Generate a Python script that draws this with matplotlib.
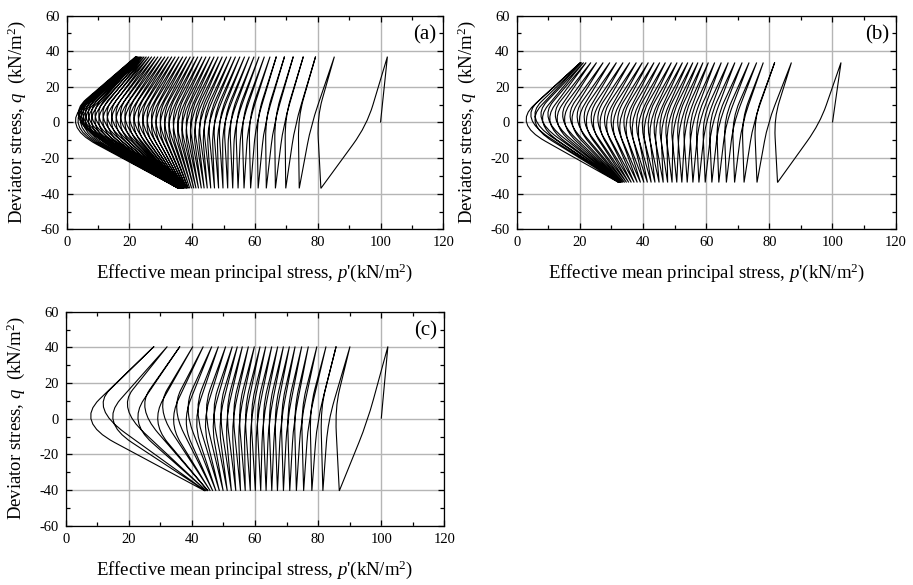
"""Undrained cyclic stress paths (q vs p') for three test cases (a), (b), (c)."""

import matplotlib

matplotlib.use("Agg")
import matplotlib.pyplot as plt
from matplotlib.path import Path
from matplotlib.patches import PathPatch
from matplotlib.ticker import MultipleLocator

plt.rcParams["font.family"] = ["Liberation Serif", "DejaVu Serif"]
plt.rcParams["mathtext.fontset"] = "custom"
plt.rcParams["mathtext.rm"] = "Liberation Serif"
plt.rcParams["mathtext.it"] = "Liberation Serif:italic"
plt.rcParams["axes.unicode_minus"] = False

# common start of every test: isotropic state p' = 100, q = 0
P_START = 100.0

# ---- panel (a) ----
AMP_A = 37.0
KNEE_Q_A = (-1.5, 2.5)  # q of leftmost point on unloading / reloading branch
TOP_A = [102.2, 85.3, 79.3, 75.4, 72.2, 69.4, 66.8, 64.8, 63.0, 61.3,
         59.7, 58.2, 56.7, 55.2, 53.8, 52.4, 51.0, 49.6, 48.3, 47.0,
         45.7, 44.4, 43.1, 41.8, 40.6, 39.4, 38.2, 37.0, 35.8, 34.6,
         33.5, 32.4, 31.3, 30.2, 29.1, 28.1, 27.1, 26.2, 25.4, 24.7,
         24.1, 23.6, 23.2, 22.8, 22.5, 22.3, 22.1, 22.0]
BOT_A = [81.0, 74.1, 69.8, 66.5, 63.6, 61.0, 58.6, 56.5, 54.6, 52.9,
         51.3, 49.8, 48.4, 47.1, 45.9, 44.8, 43.8, 42.9, 42.0, 41.2,
         40.5, 39.8, 39.2, 38.7, 38.2, 37.8, 37.4, 37.1, 36.8, 36.6,
         36.4, 36.2, 36.1, 36.0, 35.9, 35.9, 35.8, 35.8, 35.8, 35.7,
         35.7, 35.7, 35.7, 35.6, 35.6, 35.6, 35.6, 35.6]
DOWN_KNEE_A = [95.0, 78.1, 73.0, 69.3, 66.2, 63.3, 60.6, 58.2, 56.0, 54.0,
               52.1, 50.3, 48.6, 47.0, 45.4, 43.9, 42.4, 41.0, 39.6, 38.2,
               36.8, 35.4, 34.0, 32.6, 31.2, 29.8, 28.4, 27.0, 25.6, 24.2,
               22.8, 21.4, 20.0, 18.6, 17.2, 15.8, 14.4, 13.0, 11.7, 10.4,
               9.2, 8.1, 7.1, 6.2, 5.4, 4.6, 3.8, 3.0]
UP_KNEE_A = [80.3, 74.2, 70.0, 66.7, 63.8, 61.1, 58.6, 56.4, 54.4, 52.5,
             50.7, 49.0, 47.3, 45.7, 44.1, 42.6, 41.1, 39.6, 38.2, 36.8,
             35.4, 34.0, 32.6, 31.2, 29.8, 28.4, 27.0, 25.6, 24.2, 22.8,
             21.4, 20.0, 18.6, 17.2, 15.8, 14.4, 13.0, 11.7, 10.4, 9.2,
             8.1, 7.1, 6.2, 5.4, 4.8, 4.3, 3.9]

# ---- panel (b) ----
AMP_B = 33.7
KNEE_Q_B = (-0.5, 2.0)
TOP_B = [102.7, 87.0, 81.7, 78.1, 76.0, 73.6, 71.4, 69.1, 67.0, 64.8,
         62.7, 60.7, 59.0, 57.4, 55.8, 54.2, 52.5, 50.8, 49.0, 47.1,
         45.3, 43.5, 41.7, 39.8, 37.9, 35.8, 33.7, 31.6, 29.5, 27.4,
         25.3, 23.5, 22.0, 21.2, 20.6, 20.2]
BOT_B = [82.6, 76.1, 72.0, 69.0, 66.4, 64.0, 61.8, 59.7, 57.7, 55.8,
         54.0, 52.3, 50.7, 49.2, 47.8, 46.4, 45.1, 43.8, 42.6, 41.4,
         40.3, 39.2, 38.2, 37.2, 36.3, 35.5, 34.8, 34.2, 33.7, 33.3,
         33.0, 32.8, 32.6, 32.5, 32.4, 32.3]
DOWN_KNEE_B = [95.5, 79.8, 75.2, 71.7, 69.0, 66.6, 64.3, 62.2, 60.1, 58.0,
               55.9, 53.9, 52.0, 50.1, 48.2, 46.3, 44.4, 42.5, 40.6, 38.7,
               36.7, 34.7, 32.7, 30.6, 28.5, 26.4, 24.3, 22.1, 19.9, 17.6,
               15.3, 13.0, 10.7, 8.4, 6.0, 3.2]
UP_KNEE_B = [82.0, 75.8, 71.9, 68.9, 66.3, 63.9, 61.6, 59.5, 57.4, 55.3,
             53.3, 51.3, 49.4, 47.5, 45.6, 43.7, 41.8, 39.9, 38.0, 36.0,
             34.0, 32.0, 29.9, 27.8, 25.7, 23.6, 21.4, 19.2, 17.0, 14.7,
             12.4, 10.1, 7.9, 6.0, 4.7]

# ---- panel (c) ----
AMP_C = 40.5
KNEE_Q_C = (-1.5, 5.0)
TOP_C = [102.1, 90.1, 85.7, 82.5, 79.6, 76.9, 74.8, 72.7, 70.9, 69.0,
         67.2, 65.3, 63.4, 61.6, 59.8, 57.9, 56.0, 54.4, 52.8, 50.7,
         48.4, 46.3, 43.6, 40.3, 36.2, 32.2, 28.0]
BOT_C = [86.7, 81.5, 78.0, 75.4, 73.1, 71.0, 69.0, 67.1, 65.3, 63.5,
         61.8, 60.1, 58.5, 56.9, 55.4, 53.9, 52.5, 51.2, 49.9, 48.7,
         47.6, 46.6, 45.8, 45.1, 44.6, 44.3, 44.1]
DOWN_KNEE_C = [95.4, 83.5, 80.0, 77.2, 74.8, 72.5, 70.4, 68.4, 66.5, 64.6,
               62.7, 60.8, 58.9, 57.0, 55.1, 53.1, 51.1, 49.0, 46.8, 44.3,
               41.5, 38.2, 34.2, 29.2, 23.0, 15.1, 8.2]
UP_KNEE_C = [85.8, 81.2, 77.8, 75.1, 72.8, 70.6, 68.6, 66.6, 64.7, 62.8,
             60.9, 59.0, 57.1, 55.2, 53.3, 51.3, 49.2, 47.0, 44.6, 41.9,
             38.8, 35.2, 30.8, 25.2, 19.8, 12.2]

PANELS = [
    ("(a)", TOP_A, BOT_A, DOWN_KNEE_A, UP_KNEE_A, AMP_A, KNEE_Q_A,
     [0.0731, 0.6080, 0.4124, 0.3652]),
    ("(b)", TOP_B, BOT_B, DOWN_KNEE_B, UP_KNEE_B, AMP_B, KNEE_Q_B,
     [0.5659, 0.6080, 0.4151, 0.3652]),
    ("(c)", TOP_C, BOT_C, DOWN_KNEE_C, UP_KNEE_C, AMP_C, KNEE_Q_C,
     [0.0720, 0.1014, 0.4147, 0.3658]),
]

CORNER = 0.3  # how much of each leg is rounded at the knee


def add_branch(verts, codes, s, k, e):
    # quadratic rounded corner that passes through the knee point k
    cx = (k[0] - CORNER * (s[0] + e[0]) / 4) / (1 - CORNER / 2)
    cy = (k[1] - CORNER * (s[1] + e[1]) / 4) / (1 - CORNER / 2)
    a = (cx + CORNER * (s[0] - cx), cy + CORNER * (s[1] - cy))
    b = (cx + CORNER * (e[0] - cx), cy + CORNER * (e[1] - cy))
    verts += [a, (cx, cy), b, e]
    codes += [Path.LINETO, Path.CURVE3, Path.CURVE3, Path.LINETO]


def stress_path(tops, bots, down_knees, up_knees, amp, knee_q):
    verts = [(P_START, 0.0), (tops[0], amp)]
    codes = [Path.MOVETO, Path.LINETO]
    for i in range(len(tops)):
        add_branch(verts, codes, (tops[i], amp), (down_knees[i], knee_q[0]),
                   (bots[i], -amp))
        if i < len(up_knees):
            add_branch(verts, codes, (bots[i], -amp),
                       (up_knees[i], knee_q[1]), (tops[i + 1], amp))
    return Path(verts, codes)


fig = plt.figure(figsize=(9.13, 5.85), dpi=100)

for label, tops, bots, dk, uk, amp, kq, rect in PANELS:
    ax = fig.add_axes(rect)
    ax.add_patch(PathPatch(stress_path(tops, bots, dk, uk, amp, kq),
                           facecolor="none", edgecolor="black",
                           linewidth=0.8, zorder=3))
    ax.set_xlim(0, 120)
    ax.set_ylim(-60, 60)
    ax.xaxis.set_major_locator(MultipleLocator(20))
    ax.xaxis.set_minor_locator(MultipleLocator(10))
    ax.yaxis.set_major_locator(MultipleLocator(20))
    ax.yaxis.set_minor_locator(MultipleLocator(10))
    ax.grid(True, which="major", color="#b5b5b5", linewidth=1.0, zorder=0)
    ax.set_axisbelow(True)
    ax.tick_params(which="both", direction="in", top=True, right=True,
                   labelsize=10.5, width=0.9)
    ax.tick_params(which="major", length=4, pad=5)
    ax.tick_params(which="minor", length=3)
    for sp in ax.spines.values():
        sp.set_linewidth(0.9)
    ax.set_xlabel(r"Effective mean principal stress, $p$'(kN/m$^2$)",
                  fontsize=13.5, labelpad=9)
    ax.set_ylabel(r"Deviator stress, $q$  (kN/m$^2$)", fontsize=13.5,
                  labelpad=9)
    ax.text(0.982, 0.91, label, transform=ax.transAxes, ha="right",
            va="center", fontsize=15)

fig.savefig("out.png", dpi=100, facecolor="white")
plt.close(fig)
